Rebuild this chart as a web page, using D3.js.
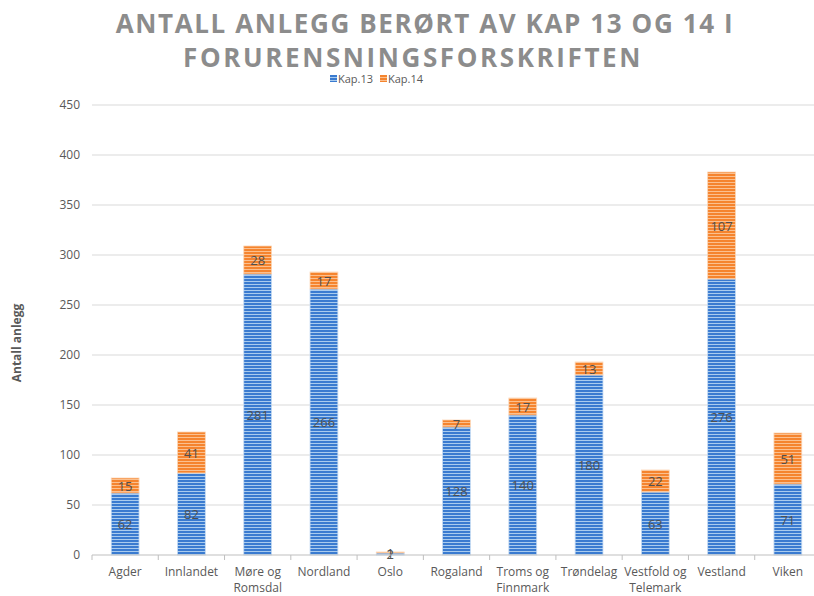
<!DOCTYPE html>
<html>
<head>
<meta charset="utf-8">
<script src="https://cdn.jsdelivr.net/npm/d3@7"></script>
<style>
  body { margin: 0; background: #fff; }
  svg text { font-family: "Open Sans", "Noto Sans", sans-serif; }
</style>
</head>
<body>
<div id="chart"></div>
<script>
const categories = [
  ["Agder"],
  ["Innlandet"],
  ["Møre og", "Romsdal"],
  ["Nordland"],
  ["Oslo"],
  ["Rogaland"],
  ["Troms og", "Finnmark"],
  ["Trøndelag"],
  ["Vestfold og", "Telemark"],
  ["Vestland"],
  ["Viken"],
];
const kap13 = [62, 82, 281, 266, 2, 128, 140, 180, 63, 276, 71];
const kap14 = [15, 41, 28, 17, 1, 7, 17, 13, 22, 107, 51];
const seriesNames = ["Kap.13", "Kap.14"];
const yTicks = [0, 50, 100, 150, 200, 250, 300, 350, 400, 450];

const width = 814;
const height = 596;
const plotLeft = 92;
const plotRight = 821;
const plotTop = 105;
const plotBottom = 555;

const svg = d3
  .select("#chart")
  .append("svg")
  .attr("width", width)
  .attr("height", height);

// striped fills
const defs = svg.append("defs");
const patterns = [
  { id: "p13", dark: "#3a7bd0", light: "#a9cbee" },
  { id: "p14", dark: "#f5842e", light: "#fbc08f" },
];
patterns.forEach((p) => {
  const pat = defs
    .append("pattern")
    .attr("id", p.id)
    .attr("patternUnits", "userSpaceOnUse")
    .attr("width", 6)
    .attr("height", 3);
  pat.append("rect").attr("width", 6).attr("height", 3).attr("fill", p.dark);
  pat.append("rect").attr("y", 2).attr("width", 6).attr("height", 1).attr("fill", p.light);
});

const data = categories.map((c, i) => ({ name: c, k13: kap13[i], k14: kap14[i] }));

const x = d3
  .scaleBand()
  .domain(d3.range(categories.length))
  .range([plotLeft, plotRight])
  .paddingInner(0.58)
  .paddingOuter(0.29);

const y = d3.scaleLinear().domain([0, 450]).range([plotBottom, plotTop]);

// gridlines
svg
  .append("g")
  .selectAll("line")
  .data(yTicks.filter((t) => t > 0))
  .enter()
  .append("line")
  .attr("x1", plotLeft)
  .attr("x2", plotRight)
  .attr("y1", (d) => y(d))
  .attr("y2", (d) => y(d))
  .attr("stroke", "#d9d9d9")
  .attr("stroke-width", 1);

// y tick labels
svg
  .append("g")
  .selectAll("text")
  .data(yTicks)
  .enter()
  .append("text")
  .attr("x", 80)
  .attr("y", (d) => y(d) + 4)
  .attr("text-anchor", "end")
  .attr("font-size", 12)
  .attr("fill", "#595959")
  .text((d) => d);

// bars
const bars = svg.append("g");
bars
  .selectAll(".b13")
  .data(data)
  .enter()
  .append("rect")
  .attr("x", (d, i) => x(i))
  .attr("width", x.bandwidth())
  .attr("y", (d) => y(d.k13))
  .attr("height", (d) => y(0) - y(d.k13))
  .attr("fill", "url(#p13)")
  .attr("stroke", "#c5dbf3")
  .attr("stroke-width", 0.8);

bars
  .selectAll(".b14")
  .data(data)
  .enter()
  .append("rect")
  .attr("x", (d, i) => x(i))
  .attr("width", x.bandwidth())
  .attr("y", (d) => y(d.k13 + d.k14))
  .attr("height", (d) => y(d.k13) - y(d.k13 + d.k14))
  .attr("fill", "url(#p14)")
  .attr("stroke", "#fcd6b6")
  .attr("stroke-width", 0.8);

// data labels
const labels = svg.append("g").attr("font-size", 13).attr("fill", "#505050").attr("text-anchor", "middle");
data.forEach((d, i) => {
  const cx = x(i) + x.bandwidth() / 2;
  labels
    .append("text")
    .attr("x", cx)
    .attr("y", y(d.k13 / 2) + 5)
    .text(d.k13);
  labels
    .append("text")
    .attr("x", cx)
    .attr("y", y(d.k13 + d.k14 / 2) + 5)
    .text(d.k14);
});

// x axis
const step = x.step();
svg
  .append("line")
  .attr("x1", plotLeft)
  .attr("x2", plotRight)
  .attr("y1", plotBottom)
  .attr("y2", plotBottom)
  .attr("stroke", "#bfbfbf");
svg
  .append("g")
  .selectAll("line")
  .data(d3.range(categories.length + 1))
  .enter()
  .append("line")
  .attr("x1", (i) => plotLeft + i * step)
  .attr("x2", (i) => plotLeft + i * step)
  .attr("y1", plotBottom)
  .attr("y2", plotBottom + 5)
  .attr("stroke", "#bfbfbf");

const xl = svg.append("g").attr("font-size", 12).attr("fill", "#595959").attr("text-anchor", "middle");
data.forEach((d, i) => {
  const t = xl.append("text").attr("x", x(i) + x.bandwidth() / 2).attr("y", 576);
  d.name.forEach((line, j) => {
    t.append("tspan")
      .attr("x", x(i) + x.bandwidth() / 2)
      .attr("dy", j === 0 ? 0 : 16)
      .text(line);
  });
});

// y axis title
svg
  .append("text")
  .attr("transform", "translate(21, 343) rotate(-90)")
  .attr("text-anchor", "middle")
  .attr("font-size", 12)
  .attr("font-weight", "bold")
  .attr("fill", "#595959")
  .text("Antall anlegg");

// title
const title = svg
  .append("g")
  .attr("text-anchor", "middle")
  .attr("font-size", 26)
  .attr("font-weight", "bold")
  .attr("fill", "#8c8c8c");
title.append("text").attr("x", 425).attr("y", 33).attr("letter-spacing", 1.6)
  .text("ANTALL ANLEGG BERØRT AV KAP 13 OG 14 I");
title.append("text").attr("x", 413).attr("y", 67).attr("letter-spacing", 2.6)
  .text("FORURENSNINGSFORSKRIFTEN");

// legend
const legend = svg.append("g");
const legendX = [330, 380];
seriesNames.forEach((s, i) => {
  legend
    .append("rect")
    .attr("x", legendX[i])
    .attr("y", 75)
    .attr("width", 7)
    .attr("height", 7)
    .attr("fill", i === 0 ? "url(#p13)" : "url(#p14)");
  legend
    .append("text")
    .attr("x", legendX[i] + 8)
    .attr("y", 83)
    .attr("font-size", 11)
    .attr("fill", "#595959")
    .text(s);
});
</script>
</body>
</html>
